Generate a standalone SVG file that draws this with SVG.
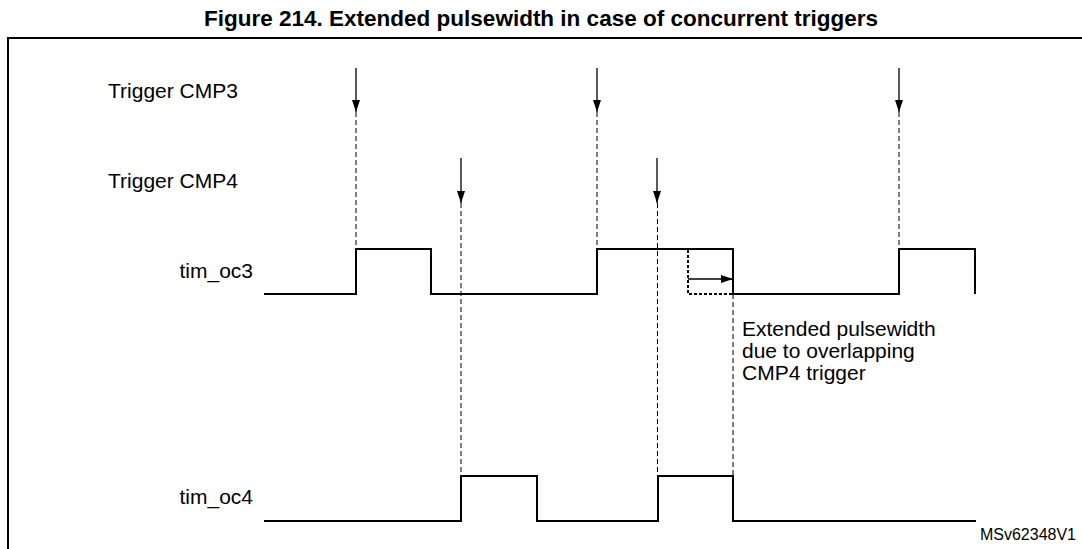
<svg xmlns="http://www.w3.org/2000/svg" width="1082" height="549" viewBox="0 0 1082 549">
<style>
.t{font-family:"Liberation Sans",Arial,sans-serif;font-size:21px;fill:#000}
.title{font-family:"Liberation Sans",Arial,sans-serif;font-size:22.5px;font-weight:bold;fill:#000}
.wave{fill:none;stroke:#000;stroke-width:2}
.arr{fill:none;stroke:#000;stroke-width:1.3}
.dash{fill:none;stroke:#000;stroke-width:1;stroke-dasharray:5,3}
.dot{fill:none;stroke:#000;stroke-width:2;stroke-dasharray:3,2}
</style>
<defs>
<marker id="ah" markerWidth="12" markerHeight="8" refX="12" refY="4" orient="auto" markerUnits="userSpaceOnUse">
<path d="M0,0 L12,4 L0,8 Z" fill="#000"/>
</marker>
</defs>
<rect width="1082" height="549" fill="#fff"/>
<text class="title" x="541" y="26" text-anchor="middle">Figure 214. Extended pulsewidth in case of concurrent triggers</text>
<path d="M8,549 V38 H1082" fill="none" stroke="#000" stroke-width="2"/>
<g id="label-cmp3"><text class="t" x="108" y="98">Trigger CMP3</text></g>
<g id="label-cmp4"><text class="t" x="108" y="188">Trigger CMP4</text></g>
<g id="label-oc3"><text class="t" x="253" y="278" text-anchor="end">tim_oc3</text></g>
<g id="label-oc4"><text class="t" x="253" y="504" text-anchor="end">tim_oc4</text></g>
<g id="tim_oc3"><path class="wave" d="M264,294 H356 V249 H431 V294 H597 V249 H733 V294 H899 V249 H975 V294"/></g>
<g id="tim_oc4"><path class="wave" d="M264,521 H461 V476 H537 V521 H658 V476 H733 V521 H976"/></g>
<g id="extended-box"><path class="dot" d="M688,250 V294 H733"/></g>
<g id="note"><text class="t" x="742" y="336">Extended pulsewidth</text><text class="t" x="742" y="358">due to overlapping</text><text class="t" x="742" y="380">CMP4 trigger</text></g>
<g id="connectors">
<line class="arr" x1="356" y1="68" x2="356" y2="112" marker-end="url(#ah)"/>
<line class="arr" x1="597" y1="68" x2="597" y2="112" marker-end="url(#ah)"/>
<line class="arr" x1="899" y1="68" x2="899" y2="112" marker-end="url(#ah)"/>
<line class="arr" x1="461" y1="158" x2="461" y2="203" marker-end="url(#ah)"/>
<line class="arr" x1="657" y1="158" x2="657" y2="203" marker-end="url(#ah)"/>
<line class="dash" x1="356" y1="112" x2="356" y2="249"/>
<line class="dash" x1="597" y1="112" x2="597" y2="249"/>
<line class="dash" x1="899" y1="112" x2="899" y2="249"/>
<line class="dash" x1="461" y1="203" x2="461" y2="476"/>
<line class="dash" x1="657.5" y1="203" x2="657.5" y2="476"/>
<line class="dash" x1="733" y1="294" x2="733" y2="476"/>
<line class="arr" x1="688" y1="279" x2="733" y2="279" marker-end="url(#ah)"/>
</g>
<g id="ref"><text class="t" x="1076" y="540" text-anchor="end" style="font-size:16px">MSv62348V1</text></g>
</svg>
